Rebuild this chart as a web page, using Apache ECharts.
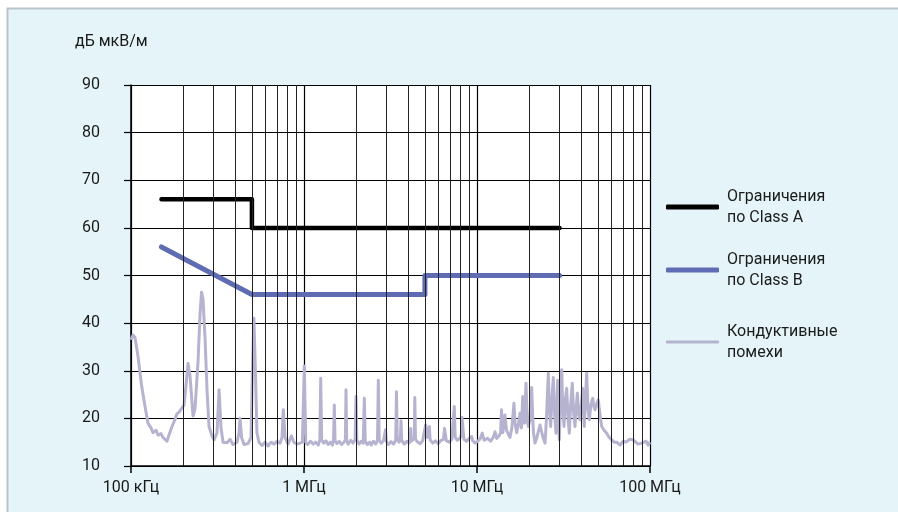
<!DOCTYPE html>
<html>
<head>
<meta charset="utf-8">
<script src="https://cdn.jsdelivr.net/npm/echarts@6/dist/echarts.min.js"></script>
<style>
html,body{margin:0;padding:0;background:#fff;}
#chart{width:898px;height:512px;}
</style>
</head>
<body>
<div id="chart"></div>
<script>
// ---- data ----
const yAxisTitle = 'дБ мкВ/м';
const tickValues = [0.1, 1, 10, 100];            // MHz
const tickLabels = ['100 кГц', '1 МГц', '10 МГц', '100 МГц'];
const minorGridFreqs = [0.2,0.3,0.4,0.5,0.6,0.7,0.8,0.9, 2,3,4,5,6,7,8,9, 20,30,40,50,60,70,80,90];

const classAName = 'Ограничения\nпо Class A';
const classBName = 'Ограничения\nпо Class B';
const noiseName = 'Кондуктивные\nпомехи';

const classAFreq = [0.15, 0.5, 0.5, 30];
const classALevel = [66, 66, 60, 60];
const classBFreq = [0.15, 0.5, 5, 5, 30];
const classBLevel = [56, 46, 46, 50, 50];

const noiseFreq = [
 0.100,0.1027,0.1055,0.1098,0.115,0.1205,0.1254,0.1305,0.134,0.1395,0.1432,0.1491,0.1531,0.1572,0.1614,0.1658,
 0.1726,0.1797,0.1845,0.1895,0.1972,0.2025,0.208,0.2136,0.2193,0.2283,0.2344,0.2441,0.2507,0.2557,0.2608,0.2678,
 0.275,0.2824,0.2941,0.302,0.3144,0.3229,0.3314,0.3404,0.359,0.3737,0.3889,0.4101,0.4212,0.4268,0.4358,0.4503,
 0.4749,0.4941,0.5034,0.5134,0.5237,0.5345,0.5489,0.5719,0.5955,0.6198,0.6449,0.6712,0.6985,0.7268,0.7464,0.7593,
 0.7769,0.8084,0.8457,0.8738,0.9111,0.9488,0.9787,1.004,1.0236,
 1.05,1.09,1.13,1.17,1.21,1.235,1.249,1.265,1.3,1.34,1.38,1.42,1.46,1.482,1.497,1.512,1.55,1.6,1.65,1.7,1.735,1.749,
 1.765,1.8,1.86,1.92,1.975,1.998,2.02,2.08,2.14,2.2,2.232,2.26,2.32,2.4,2.45,2.52,2.6,2.66,2.689,2.72,2.8,2.89,
 2.935,2.959,2.99,3.08,3.18,3.3,3.39,3.424,3.46,3.55,3.61,3.637,3.67,3.8,3.93,4.05,4.11,4.139,4.17,4.25,4.34,4.37,
 4.41,4.55,4.7,4.85,4.98,5.05,5.15,5.25,5.3,5.36,5.55,5.75,5.95,6.2,6.4,6.49,6.56,6.65,6.9,7.15,7.3,7.392,7.48,
 7.7,7.95,8.12,8.19,8.3,8.4,8.7,9.0,9.2,9.32,9.45,9.75,10.0,
 10.4,10.73,11.0,11.5,12.0,12.4,12.71,13.0,13.4,13.7,13.85,14.1,14.51,14.8,15.05,15.51,15.9,16.36,16.6,16.96,17.3,
 17.73,18.05,18.37,18.6,18.82,19.2,19.5,19.79,20.2,20.71,21.0,21.21,21.64,22.2,22.7,23.13,23.6,24.07,24.73,25.21,
 25.83,26.2,26.67,27.1,27.61,28.1,28.61,29.27,29.6,29.9,30.4,30.88,31.3,31.84,32.4,33.0,33.6,34.16,34.8,35.55,36.2,
 36.86,37.4,38.02,38.7,39.39,40.1,40.83,41.3,41.71,42.3,43.06,43.8,44.58,45.6,46.65,47.4,48.09,49.1,50.24,51.3,
 52.59,54.3,56.18,58.1,60.06,62.1,64.2,67.09,70.0,72.7,76.0,80.09,85.23,89.54,94.88,97.5,100
];
const noiseLevel = [
 36.5,37.5,37,33,27,22.5,19,18,17,17.5,16.5,16.8,16,16.3,15.2,16.5,
 18.3,19.8,21,21.3,22.2,22.8,27,31.5,29,20.5,22,32,42,46.5,45,37,
 26,18.3,16.3,15.5,17,26,18,15,14.9,15.6,14.5,15,17,20,16,14.5,
 14.7,16,30,41,30,17,15,14.3,15,14.2,15,14.6,15.2,14.8,16,21.8,
 16,14.6,16.3,15,14.6,14.8,15,31,15,
 14.5,15.2,14.6,15,14.4,15.5,28.4,15.5,14.8,15.3,14.5,15,14.4,15.5,22.8,15.3,14.7,15.2,14.5,15,15.5,26,
 15.3,14.6,15.4,14.8,15.6,24.6,15.4,14.6,15.2,14.8,24.2,15.2,14.5,15,14.4,15.2,14.6,15.5,28,15.3,14.8,15.4,
 15.8,17.6,15.2,14.5,15.1,14.6,15.5,25.6,15.5,15,16,19.5,15.4,14.6,15.2,14.8,15.6,17.9,15.2,15.6,15.8,24.4,
 15.6,15,14.7,15.3,15.6,18.6,16,16.3,18.3,15.5,14.8,15.3,14.7,15.4,15.6,17.9,17.5,15.3,15,15.6,15.8,22.5,16,
 15.4,15.8,16.5,20.2,19.8,15.6,15.2,15.8,15.5,16.2,15.3,14.8,15.2,
 15.6,16.9,15.4,15.8,15.2,16,17.2,15.8,16.3,17,21.8,17,20.7,17.5,17.2,16,18,23.2,19,17,18.5,
 21.1,18,24.6,19.5,19,27.4,20,18.3,19.5,26.5,20,17,14.8,16,17.5,18.6,17.2,16,14.8,20,
 29.5,22,18.3,24,28.6,21,16.9,28,20,15.5,24,30.2,22,18.3,24,26.3,20,16.9,23,27.4,21,
 18.3,22,25.3,21,19.7,23,26.3,21,18.3,24,29.5,22,19.7,23,24.2,22.5,21.8,23,23.9,21,
 18.3,17.5,16.9,16,15.5,15,15,14.4,15.2,15,15.6,15.5,14.6,14.8,15.2,14.4,15
];

// ---- build ----
const zip = (a, b) => a.map((v, i) => [v, b[i]]);
const chart = echarts.init(document.getElementById('chart'), null, {renderer: 'canvas'});
const FONT = 'Roboto, "Liberation Sans", Arial, sans-serif';

function xLabel(v) {
  for (let i = 0; i < tickValues.length; i++) {
    if (Math.abs(Math.log10(v) - Math.log10(tickValues[i])) < 1e-6) return tickLabels[i];
  }
  return '';
}

function legendOf(name, top, h) {
  return {
    data: [name], left: 661, top: top, orient: 'vertical',
    itemWidth: 53, itemHeight: h, icon: 'roundRect', selectedMode: false,
    textStyle: {fontFamily: FONT, fontSize: 16, color: '#1a1a1a', lineHeight: 21, padding: [0,0,0,3]}
  };
}

const option = {
  animation: false,
  backgroundColor: '#ffffff',
  graphic: [
    {type: 'rect', z: -10, shape: {x: 7.5, y: 8.5, width: 900, height: 510},
     style: {fill: '#e5f4f8', stroke: '#b9c3cb', lineWidth: 2}},
    {type: 'text', left: 75, top: 34,
     style: {text: yAxisTitle, font: '16px ' + FONT, fill: '#1a1a1a'}}
  ],
  grid: {left: 131, right: 248, top: 85, bottom: 46, show: true, backgroundColor: '#ffffff', borderWidth: 0},
  xAxis: {
    type: 'log', logBase: 10, min: 0.1, max: 100,
    axisLine: {show: true, lineStyle: {color: '#000', width: 1.5}},
    axisTick: {show: true, length: 7, lineStyle: {color: '#000', width: 1.5}},
    axisLabel: {formatter: xLabel, fontFamily: FONT, fontSize: 16, color: '#1a1a1a', margin: 14},
    splitLine: {show: true, lineStyle: {color: '#000', width: 1.2}},
    minorTick: {show: false}, minorSplitLine: {show: false}
  },
  yAxis: {
    type: 'value', min: 10, max: 90, interval: 10,
    axisLine: {show: true, lineStyle: {color: '#000', width: 1.5}},
    axisTick: {show: true, length: 7, lineStyle: {color: '#000', width: 1.2}},
    axisLabel: {fontFamily: FONT, fontSize: 16, color: '#1a1a1a', margin: 31},
    splitLine: {show: true, lineStyle: {color: '#000', width: 1.2}}
  },
  legend: [legendOf(classAName, 181, 5), legendOf(classBName, 244, 5), legendOf(noiseName, 316, 3)],
  series: [
    {
      name: noiseName, type: 'line', data: zip(noiseFreq, noiseLevel), symbol: 'none',
      lineStyle: {color: '#b6b3d0', width: 3, join: 'round'}, itemStyle: {color: '#b6b3d0'}, z: 2,
      markLine: {
        silent: true, symbol: ['none', 'none'], label: {show: false},
        lineStyle: {color: '#222', width: 1, type: 'solid'},
        emphasis: {disabled: true},
        data: minorGridFreqs.map(f => ({xAxis: f}))
      }
    },
    {
      name: classBName, type: 'line', data: zip(classBFreq, classBLevel), symbol: 'none',
      lineStyle: {color: '#5f6cb3', width: 5, cap: 'round', join: 'round'}, itemStyle: {color: '#5f6cb3'}, z: 3
    },
    {
      name: classAName, type: 'line', data: zip(classAFreq, classALevel), symbol: 'none',
      lineStyle: {color: '#000', width: 4.5, cap: 'round', join: 'round'}, itemStyle: {color: '#000'}, z: 4
    }
  ]
};
chart.setOption(option);
</script>
</body>
</html>
